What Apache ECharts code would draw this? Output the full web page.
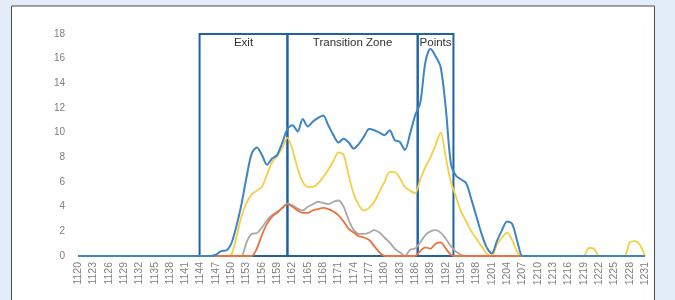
<!DOCTYPE html>
<html>
<head>
<meta charset="utf-8">
<script src="https://cdn.jsdelivr.net/npm/echarts@6/dist/echarts.min.js"></script>
<style>
  html, body { margin: 0; padding: 0; background: #e2edf7; }
  #chart { width: 675px; height: 300px; }
</style>
</head>
<body>
<div id="chart"></div>
<script>
// x values 1120 .. 1231, one per step
const years = [
  1120, 1121, 1122, 1123, 1124, 1125, 1126, 1127, 1128, 1129, 1130, 1131, 1132, 1133, 1134, 1135,
  1136, 1137, 1138, 1139, 1140, 1141, 1142, 1143, 1144, 1145, 1146, 1147, 1148, 1149, 1150, 1151,
  1152, 1153, 1154, 1155, 1156, 1157, 1158, 1159, 1160, 1161, 1162, 1163, 1164, 1165, 1166, 1167,
  1168, 1169, 1170, 1171, 1172, 1173, 1174, 1175, 1176, 1177, 1178, 1179, 1180, 1181, 1182, 1183,
  1184, 1185, 1186, 1187, 1188, 1189, 1190, 1191, 1192, 1193, 1194, 1195, 1196, 1197, 1198, 1199,
  1200, 1201, 1202, 1203, 1204, 1205, 1206, 1207, 1208, 1209, 1210, 1211, 1212, 1213, 1214, 1215,
  1216, 1217, 1218, 1219, 1220, 1221, 1222, 1223, 1224, 1225, 1226, 1227, 1228, 1229, 1230, 1231
]

const blueValues = [
  0, 0, 0, 0, 0, 0, 0, 0, 0, 0, 0, 0, 0, 0, 0, 0,
  0, 0, 0, 0, 0, 0, 0, 0, 0, 0, 0, 0.1, 0.4, 0.45, 1.0, 2.4,
  4.2, 6.4, 8.3, 8.8, 8.2, 7.4, 7.9, 8.2, 9.2, 10.3, 10.6, 10.1, 11.1, 10.5, 10.9, 11.2,
  11.4, 10.6, 9.8, 9.2, 9.5, 9.2, 8.7, 9.1, 9.7, 10.3, 10.2, 10.0, 9.8, 10.2, 9.4, 9.25,
  8.6, 9.9, 11.4, 12.4, 15.7, 16.8, 16.2, 15.3, 12.0, 7.5, 6.5, 6.2, 5.9, 4.6, 3.2, 1.8,
  0.7, 0.2, 1.2, 2.1, 2.8, 2.6, 1.2, 0, 0, 0, 0, 0, 0, 0, 0, 0,
  0, 0, 0, 0, 0, 0, 0, 0, 0, 0, 0, 0, 0, 0, 0, 0
]

const orangeValues = [
  0, 0, 0, 0, 0, 0, 0, 0, 0, 0, 0, 0, 0, 0, 0, 0,
  0, 0, 0, 0, 0, 0, 0, 0, 0, 0, 0, 0, 0, 0, 0, 0,
  0, 0, 0, 0.6, 1.7, 2.6, 3.2, 3.5, 3.9, 4.2, 4.0, 3.7, 3.5, 3.5, 3.7, 3.8,
  3.9, 3.8, 3.6, 3.3, 2.8, 2.2, 1.9, 1.6, 1.5, 1.3, 0.8, 0.3, 0, 0, 0, 0,
  0, 0, 0, 0.4, 0.7, 0.6, 1.0, 1.1, 0.6, 0.1, 0, 0, 0, 0, 0, 0,
  0, 0, 0, 0, 0, 0, 0, 0, 0, 0, 0, 0, 0, 0, 0, 0,
  0, 0, 0, 0, 0, 0, 0, 0, 0, 0, 0, 0, 0, 0, 0, 0
]

const grayValues = [
  0, 0, 0, 0, 0, 0, 0, 0, 0, 0, 0, 0, 0, 0, 0, 0,
  0, 0, 0, 0, 0, 0, 0, 0, 0, 0, 0, 0, 0, 0, 0, 0,
  0, 1.1, 1.8, 1.85, 2.3, 2.9, 3.3, 3.6, 3.9, 4.25, 4.1, 3.85, 3.7, 4.0, 4.2, 4.4,
  4.3, 4.2, 4.4, 4.5, 4.0, 2.9, 2.1, 1.8, 1.8, 1.9, 2.1, 1.9, 1.5, 1.1, 0.6, 0.3,
  0, 0.5, 0.6, 1.1, 1.7, 2.0, 2.1, 1.9, 1.4, 0.8, 0.35, 0.1, 0, 0, 0, 0,
  0, 0, 0, 0, 0, 0, 0, 0, 0, 0, 0, 0, 0, 0, 0, 0,
  0, 0, 0, 0, 0, 0, 0, 0, 0, 0, 0, 0, 0, 0, 0, 0
]

const yellowValues = [
  0, 0, 0, 0, 0, 0, 0, 0, 0, 0, 0, 0, 0, 0, 0, 0,
  0, 0, 0, 0, 0, 0, 0, 0, 0, 0, 0, 0, 0, 0, 0.1, 1.5,
  3.2, 4.3, 5.0, 5.3, 5.6, 6.6, 7.6, 8.1, 8.8, 9.6, 8.6, 7.1, 6.0, 5.6, 5.6, 5.9,
  6.4, 7.0, 7.7, 8.4, 8.2, 6.5, 5.0, 4.1, 3.7, 3.9, 4.4, 5.2, 6.0, 6.8, 6.8, 6.3,
  5.6, 5.3, 5.1, 6.2, 7.2, 8.0, 9.0, 10.0, 8.0, 6.0, 4.8, 3.6, 2.8, 2.0, 1.4, 0.8,
  0.2, 0, 0.9, 1.5, 1.9, 1.3, 0.3, 0, 0, 0, 0, 0, 0, 0, 0, 0,
  0, 0, 0, 0, 0.65, 0.6, 0, 0, 0, 0, 0, 0, 1.1, 1.2, 0.9, 0
]

// zones drawn as boxes over the chart
const zoneNames = ['Exit', 'Transition Zone', 'Points']
const zoneStart = [1143.8, 1161, 1186.5]
const zoneEnd = [1161, 1186.5, 1193.5]
const zoneTop = 18.15

const pairs = vals => years.map((y, i) => [y, vals[i]])

const chart = echarts.init(document.getElementById('chart'))

function lineSeries (name, color, vals) {
  return {
    name: name,
    type: 'line',
    data: pairs(vals),
    showSymbol: false,
    smooth: 0.3,
    lineStyle: { color: color, width: 1.8 },
    itemStyle: { color: color }
  }
}

const blue = lineSeries('blue', '#3d85c4', blueValues)
blue.lineStyle.width = 2
blue.clip = false
blue.markArea = {
  silent: true,
  itemStyle: { color: 'rgba(0,0,0,0)', borderColor: '#1f62a3', borderWidth: 2 },
  label: {
    position: 'insideTop',
    distance: 4,
    color: '#333333',
    fontSize: 11.5,
    fontFamily: 'Liberation Sans, Arial, sans-serif'
  },
  data: zoneNames.map((n, i) => [
    { name: n, coord: [zoneStart[i], 0] },
    { coord: [zoneEnd[i], zoneTop] }
  ])
}

chart.setOption({
  backgroundColor: '#e2edf7',
  animation: false,
  graphic: [{
    type: 'rect',
    z: 0,
    silent: true,
    shape: { x: 11.5, y: 6, width: 643, height: 300 },
    style: { fill: '#ffffff', stroke: '#4a4a4a', lineWidth: 1 }
  }],
  grid: { left: 78, right: 30, top: 34, bottom: 44 },
  xAxis: {
    type: 'value',
    min: 1120,
    max: 1231,
    interval: 3,
    splitLine: { show: false },
    axisTick: { show: false },
    axisLine: { lineStyle: { color: '#d9d9d9' } },
    axisLabel: {
      rotate: 90,
      margin: 6,
      fontSize: 10.5,
      color: '#808080',
      fontFamily: 'Liberation Sans, Arial, sans-serif',
      formatter: v => String(v)
    }
  },
  yAxis: {
    type: 'value',
    min: 0,
    max: 18,
    interval: 2,
    splitLine: { show: false },
    axisLine: { show: false },
    axisTick: { show: false },
    axisLabel: {
      margin: 13,
      fontSize: 10,
      color: '#7f7f7f',
      fontFamily: 'Liberation Sans, Arial, sans-serif'
    }
  },
  series: [
    lineSeries('yellow', '#f3cf45', yellowValues),
    lineSeries('gray', '#a8a8a8', grayValues),
    lineSeries('orange', '#e8743b', orangeValues),
    blue
  ]
})
</script>
</body>
</html>
